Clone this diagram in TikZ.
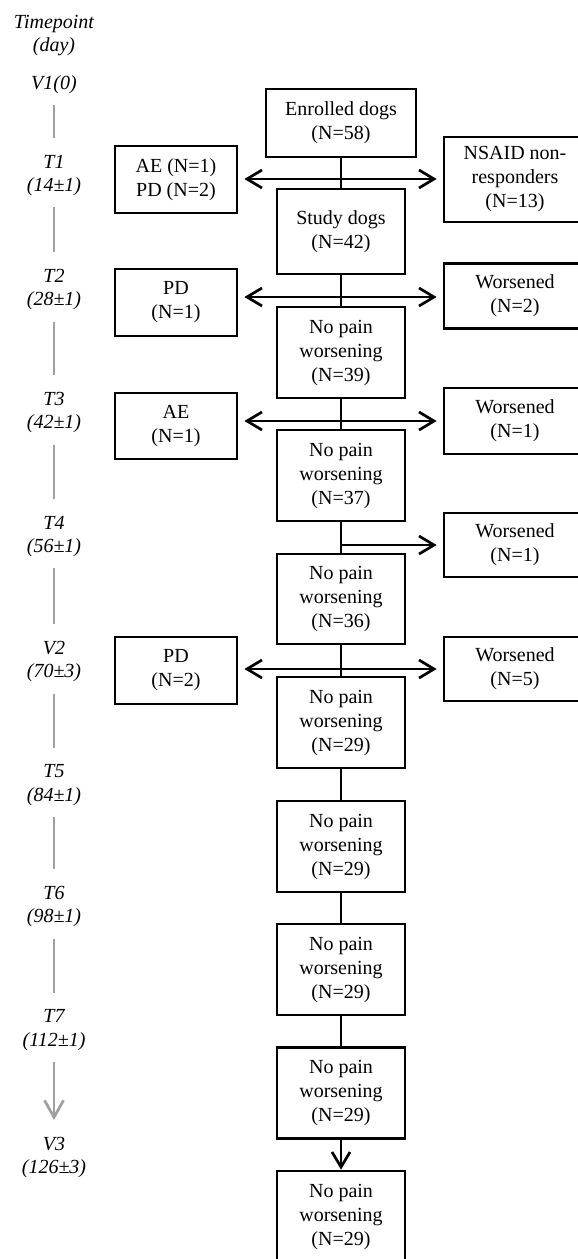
\documentclass[tikz,border=0pt]{standalone}
\usepackage{fontspec}
\setmainfont{Liberation Serif}
\usetikzlibrary{arrows.meta}
\definecolor{tlgray}{HTML}{A0A0A0}
\begin{document}
\begin{tikzpicture}[x=1pt,y=-1pt,
  box/.style={draw=black,line width=2.7pt,align=center,inner sep=0pt,
    font=\fontsize{20}{24}\selectfont},
  cbox/.style={box,minimum width=128pt,minimum height=91pt},
  lbox/.style={box,minimum width=122pt,minimum height=67pt},
  rbox/.style={box,minimum width=142pt,minimum height=65pt},
  tl/.style={align=center,inner sep=0pt,font=\fontsize{20}{23.5}\selectfont\itshape},
  conn/.style={line width=2.7pt,black},
  barb/.style={conn,-{Straight Barb[length=15pt,width=18pt]}},
  side/.style={barb,shorten >=6pt},
  gline/.style={line width=2.7pt,tlgray,shorten <=11.5pt,shorten >=16.5pt},
]
\useasboundingbox (0,0) rectangle (578,1259);
\fill[white] (0,0) rectangle (578,1259);

% timeline labels
\node[tl] (tp) at (54,35.5) {Timepoint\\(day)};
\node[tl] (v1) at (54,84.6) {V1(0)};
\node[tl] (t1) at (54,175.3) {T1\\(14±1)};
\node[tl] (t2) at (54,289.3) {T2\\(28±1)};
\node[tl] (t3) at (54,412.3) {T3\\(42±1)};
\node[tl] (t4) at (54,536.3) {T4\\(56±1)};
\node[tl] (vv2) at (54,661.3) {V2\\(70±3)};
\node[tl] (t5) at (54,785.3) {T5\\(84±1)};
\node[tl] (t6) at (54,906.3) {T6\\(98±1)};
\node[tl] (t7) at (54,1030.3) {T7\\(112±1)};
\node[tl] (v3) at (54,1157.3) {V3\\(126±3)};

\draw[gline] (v1) -- (t1);
\draw[gline] (t1) -- (t2);
\draw[gline] (t2) -- (t3);
\draw[gline] (t3) -- (t4);
\draw[gline] (t4) -- (vv2);
\draw[gline] (vv2) -- (t5);
\draw[gline] (t5) -- (t6);
\draw[gline] (t6) -- (t7);
\draw[gline,-{Straight Barb[length=17pt,width=19pt]}] (t7) -- (v3);

% main column
\node[box,minimum width=150pt,minimum height=68pt] (enr) at (341,123) {Enrolled dogs\\(N=58)};
\node[cbox,minimum height=85pt] (study) at (341,231.5) {Study dogs\\(N=42)};
\node[cbox] (np39) at (341,352.5) {No pain\\worsening\\(N=39)};
\node[cbox] (np37) at (341,475.5) {No pain\\worsening\\(N=37)};
\node[cbox,minimum height=90pt] (np36) at (341,599) {No pain\\worsening\\(N=36)};
\node[cbox] (npa) at (341,722.5) {No pain\\worsening\\(N=29)};
\node[cbox] (npb) at (341,846.5) {No pain\\worsening\\(N=29)};
\node[cbox] (npc) at (341,969.5) {No pain\\worsening\\(N=29)};
\node[cbox] (npd) at (341,1093) {No pain\\worsening\\(N=29)};
\node[cbox] (npe) at (341,1216.5) {No pain\\worsening\\(N=29)};

% side boxes
\node[lbox] (ae1) at (176,179.5) {AE (N=1)\\PD (N=2)};
\node[rbox,minimum height=85pt] (nsaid) at (515,179.5) {NSAID non-\\responders\\(N=13)};
\node[lbox] (pd2) at (176,302.5) {PD\\(N=1)};
\node[rbox] (w2) at (515,296) {Worsened\\(N=2)};
\node[lbox,minimum height=66pt] (ae3) at (176,426) {AE\\(N=1)};
\node[rbox,minimum height=66pt] (w3) at (515,421) {Worsened\\(N=1)};
\node[rbox,minimum height=64pt] (w4) at (515,545) {Worsened\\(N=1)};
\node[lbox] (pd5) at (176,670.5) {PD\\(N=2)};
\node[rbox,minimum height=64pt] (w5) at (515,669) {Worsened\\(N=5)};

% vertical connectors
\draw[conn] (enr) -- (study);
\draw[conn] (study) -- (np39);
\draw[conn] (np39) -- (np37);
\draw[conn] (np37) -- (np36);
\draw[conn] (np36) -- (npa);
\draw[conn] (npa) -- (npb);
\draw[conn] (npb) -- (npc);
\draw[conn] (npc) -- (npd);
\draw[barb] (npd) -- (npe);

% junctions
\coordinate (j1) at (341,179);
\coordinate (j2) at (341,297);
\coordinate (j3) at (341,421);
\coordinate (j4) at (341,545);
\coordinate (j5) at (341,669);

\draw[side] (j1) -- (ae1.east |- j1);
\draw[side] (j1) -- (nsaid.west |- j1);
\draw[side] (j2) -- (pd2.east |- j2);
\draw[side] (j2) -- (w2.west |- j2);
\draw[side] (j3) -- (ae3.east |- j3);
\draw[side] (j3) -- (w3.west |- j3);
\draw[side] (j4) -- (w4.west |- j4);
\draw[side] (j5) -- (pd5.east |- j5);
\draw[side] (j5) -- (w5.west |- j5);
\end{tikzpicture}
\end{document}
